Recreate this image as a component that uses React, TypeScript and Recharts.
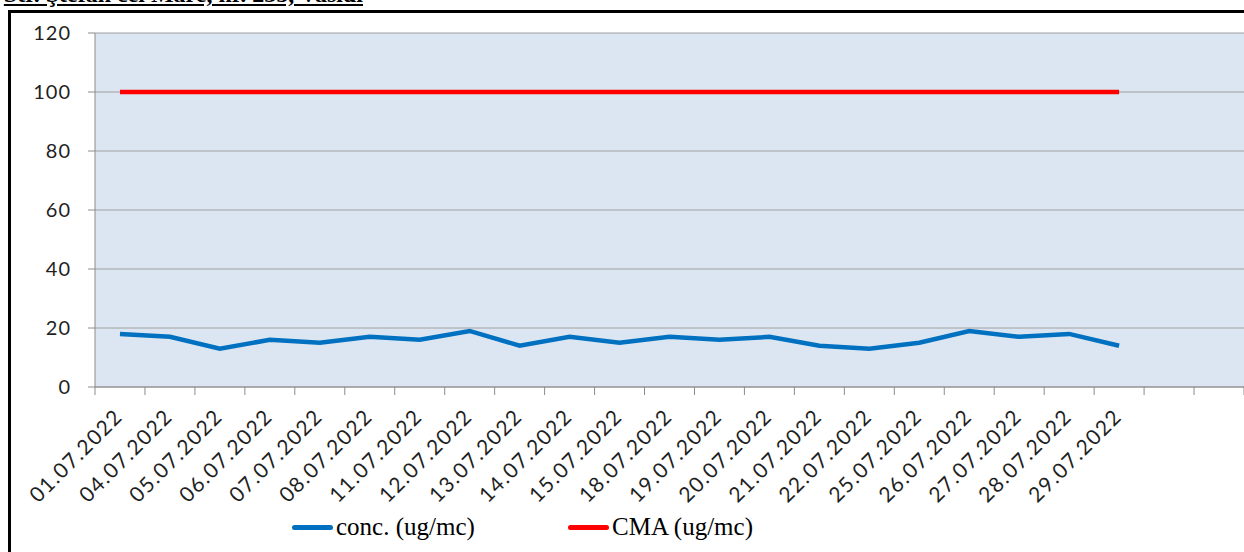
import { LineChart, Line, XAxis, YAxis, CartesianGrid } from "recharts";

const dates = [
  "01.07.2022", "04.07.2022", "05.07.2022", "06.07.2022", "07.07.2022",
  "08.07.2022", "11.07.2022", "12.07.2022", "13.07.2022", "14.07.2022",
  "15.07.2022", "18.07.2022", "19.07.2022", "20.07.2022", "21.07.2022",
  "22.07.2022", "25.07.2022", "26.07.2022", "27.07.2022", "28.07.2022",
  "29.07.2022",
];
// two empty slots at the end of the axis, as in the original sheet
const blankSlots = ["", " "];
const conc = [18, 17, 13, 16, 15, 17, 16, 19, 14, 17, 15, 17, 16, 17, 14, 13, 15, 19, 17, 18, 14];
const cma = [100, 100, 100, 100, 100, 100, 100, 100, 100, 100, 100, 100, 100, 100, 100, 100, 100, 100, 100, 100, 100];
const yTicks = [0, 20, 40, 60, 80, 100, 120];

const seriesNames = ["conc. (ug/mc)", "CMA (ug/mc)"];
const seriesColors = ["#0070c0", "#ff0000"];

const data = [...dates, ...blankSlots].map((d, i) => ({
  date: d,
  conc: i < conc.length ? conc[i] : null,
  cma: i < cma.length ? cma[i] : null,
}));

const total = data.length;

function DateTick(props: any) {
  const { x, y, payload, index } = props;
  const half = payload && payload.offset ? payload.offset : 25;
  const label = String(payload.value).trim();
  return (
    <g>
      <line x1={x - half} y1={y} x2={x - half} y2={y + 8} stroke="#8c8c8c" />
      {index === total - 1 && (
        <line x1={x + half} y1={y} x2={x + half} y2={y + 8} stroke="#8c8c8c" />
      )}
      {label && (
        <text
          x={x + 4}
          y={y + 31}
          textAnchor="end"
          transform={`rotate(-45, ${x + 4}, ${y + 31})`}
          fontFamily="Lato, 'Noto Sans', sans-serif"
          fontSize={21}
          letterSpacing={1.4}
          fill="#1f1f1f"
        >
          {label}
        </text>
      )}
    </g>
  );
}

export default function App() {
  return (
    <div
      style={{
        position: "absolute",
        left: 0,
        top: 0,
        width: 1244,
        height: 552,
        overflow: "hidden",
        background: "#fff",
      }}
    >
      {/* cut-off heading from the page above the chart */}
      <div
        style={{
          position: "absolute",
          right: 1244 - 363,
          top: -18,
          whiteSpace: "nowrap",
          fontFamily: "'Liberation Serif', serif",
          fontWeight: "bold",
          fontSize: 24,
          lineHeight: "24px",
          textDecoration: "underline",
          color: "#000",
        }}
      >
        Str. Ştefan cel Mare, nr. 235, Vaslui
      </div>

      {/* frame of the embedded chart */}
      <div
        style={{
          position: "absolute",
          left: 8,
          top: 10,
          width: 1300,
          height: 600,
          borderLeft: "3px solid #000",
          borderTop: "3px solid #000",
        }}
      />

      <div style={{ position: "absolute", left: 0, top: 0 }}>
        <LineChart
          width={1244}
          height={552}
          data={data}
          margin={{ top: 33, right: 0, bottom: 40, left: 0 }}
        >
          <CartesianGrid
            vertical={false}
            stroke="#a0a0a0"
            fill="#dce6f2"
            fillOpacity={1}
          />
          <XAxis
            dataKey="date"
            scale="band"
            interval={0}
            height={125}
            tickLine={false}
            tickSize={0}
            tickMargin={0}
            axisLine={{ stroke: "#8c8c8c" }}
            tick={<DateTick />}
          />
          <YAxis
            width={95}
            domain={[0, 120]}
            ticks={yTicks}
            interval={0}
            tickSize={7}
            tickMargin={17}
            tickLine={{ stroke: "#8c8c8c" }}
            axisLine={{ stroke: "#8c8c8c" }}
            tick={{
              fontFamily: "Lato, 'Noto Sans', sans-serif",
              fontSize: 20,
              letterSpacing: 1,
              fill: "#1f1f1f",
            }}
          />
          <Line
            type="linear"
            dataKey="conc"
            name={seriesNames[0]}
            stroke={seriesColors[0]}
            strokeWidth={4.5}
            dot={false}
            activeDot={false}
            isAnimationActive={false}
          />
          <Line
            type="linear"
            dataKey="cma"
            name={seriesNames[1]}
            stroke={seriesColors[1]}
            strokeWidth={4.5}
            dot={false}
            activeDot={false}
            isAnimationActive={false}
          />
        </LineChart>
      </div>

      {/* legend */}
      {seriesNames.map((name, i) => (
        <div
          key={name}
          style={{
            position: "absolute",
            left: i === 0 ? 292 : 568,
            top: 512,
            display: "flex",
            alignItems: "center",
            fontFamily: "'Liberation Serif', serif",
            fontSize: 25,
            lineHeight: "30px",
            color: "#000",
            whiteSpace: "nowrap",
          }}
        >
          <span
            style={{
              display: "inline-block",
              width: 41,
              height: 5,
              borderRadius: 2.5,
              background: seriesColors[i],
              marginRight: 3,
            }}
          />
          {name}
        </div>
      ))}
    </div>
  );
}
